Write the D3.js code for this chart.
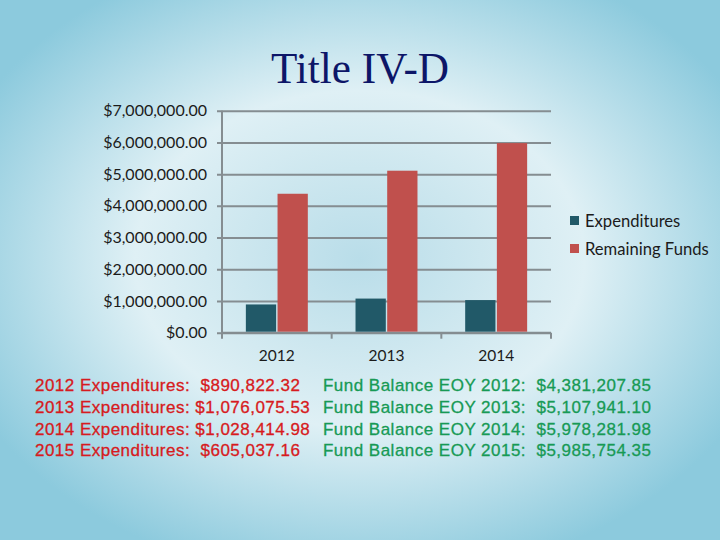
<!DOCTYPE html>
<html>
<head>
<meta charset="utf-8">
<script src="https://cdn.jsdelivr.net/npm/d3@7"></script>
<style>
  html, body { margin: 0; padding: 0; background: #a9d6e5; }
  svg { display: block; }
</style>
</head>
<body>
<div id="chart"></div>
<script>
var W = 720, H = 540
var margin = {top: 110.7, left: 222, right: 169, bottom: 207.3}

// data
var years = ["2012", "2013", "2014"]
var series = ["Expenditures", "Remaining Funds"]
var expenditures = [890822.32, 1076075.53, 1028414.98]
var remaining = [4381207.85, 5107941.10, 5978281.98]
var yTicks = [0, 1000000, 2000000, 3000000, 4000000, 5000000, 6000000, 7000000]
var colors = ["#215968", "#c0504d"]

var expLines = [
  "2012 Expenditures:  $890,822.32",
  "2013 Expenditures: $1,076,075.53",
  "2014 Expenditures: $1,028,414.98",
  "2015 Expenditures:  $605,037.16"
]
var balLines = [
  "Fund Balance EOY 2012:  $4,381,207.85",
  "Fund Balance EOY 2013:  $5,107,941.10",
  "Fund Balance EOY 2014:  $5,978,281.98",
  "Fund Balance EOY 2015:  $5,985,754.35"
]

var svg = d3.select("#chart").append("svg")
  .attr("width", W)
  .attr("height", H)

// background gradient (light centre ring, blue edges)
var defs = svg.append("defs")
var grad = defs.append("radialGradient")
  .attr("id", "bg")
  .attr("cx", "50%").attr("cy", "48%").attr("r", "60%")
grad.append("stop").attr("offset", "0%").attr("stop-color", "#b9dde9")
grad.append("stop").attr("offset", "28%").attr("stop-color", "#cde7ef")
grad.append("stop").attr("offset", "52%").attr("stop-color", "#dff0f5")
grad.append("stop").attr("offset", "100%").attr("stop-color", "#8ccadd")
svg.append("rect").attr("width", W).attr("height", H).attr("fill", "url(#bg)")

// title
svg.append("text")
  .attr("x", 360).attr("y", 83)
  .attr("text-anchor", "middle")
  .attr("textLength", 178)
  .attr("lengthAdjust", "spacingAndGlyphs")
  .style("font-family", "'Liberation Serif', 'DejaVu Serif', serif")
  .style("font-size", "45px")
  .style("fill", "#0d1668")
  .text("Title IV-D")

var width = W - margin.left - margin.right,
    height = H - margin.top - margin.bottom

var g = svg.append("g")
  .attr("transform", "translate(" + margin.left + "," + margin.top + ")")

var y = d3.scaleLinear().domain([0, 7000000]).range([height, 0])
var x0 = d3.scaleBand().domain(years).range([0, width])
var x1 = d3.scaleBand().domain(series).range([0, x0.bandwidth()]).paddingOuter(0.77)

var gridColor = "#858d91"
var fmt = d3.format("$,.2f")
var labelFont = "Lato, 'Open Sans', sans-serif"

// y axis with gridlines
var yAxis = d3.axisLeft(y)
  .tickValues(yTicks)
  .tickSize(-width - 5)
  .tickPadding(10)
  .tickFormat(fmt)
var ya = g.append("g")
  .attr("transform", "translate(-5,0)")
  .call(yAxis)
ya.select(".domain").remove()
ya.selectAll(".tick line")
  .attr("x1", 0)
  .attr("stroke", gridColor)
  .attr("stroke-width", 2)
ya.selectAll(".tick text")
  .style("font-family", labelFont)
  .style("font-size", "16px")
  .style("fill", "#1b1b1b")

// vertical axis line
g.append("line")
  .attr("x1", 0).attr("x2", 0)
  .attr("y1", 0).attr("y2", height)
  .attr("stroke", gridColor).attr("stroke-width", 2)

// x axis: ticks at category boundaries
var bounds = years.map(function(d){ return x0(d) }).concat([width])
g.append("line")
  .attr("x1", 0).attr("x2", width)
  .attr("y1", height).attr("y2", height)
  .attr("stroke", gridColor).attr("stroke-width", 2)
g.selectAll(".xtick").data(bounds).enter()
  .append("line")
  .attr("class", "xtick")
  .attr("x1", function(d){ return d }).attr("x2", function(d){ return d })
  .attr("y1", height).attr("y2", height + 6)
  .attr("stroke", gridColor).attr("stroke-width", 2)
g.selectAll(".xlabel").data(years).enter()
  .append("text")
  .attr("class", "xlabel")
  .attr("x", function(d){ return x0(d) + x0.bandwidth() / 2 })
  .attr("y", height + 28)
  .attr("text-anchor", "middle")
  .style("font-family", labelFont)
  .style("font-size", "15.5px")
  .style("fill", "#1b1b1b")
  .text(function(d){ return d })

// bars
var rows = years.map(function(yr, i){
  return {year: yr, values: [expenditures[i], remaining[i]]}
})
var groups = g.selectAll(".grp").data(rows).enter()
  .append("g")
  .attr("class", "grp")
  .attr("transform", function(d){ return "translate(" + x0(d.year) + ",0)" })
groups.selectAll("rect").data(function(d){
    return d.values.map(function(v, k){ return {key: series[k], value: v, k: k} })
  }).enter()
  .append("rect")
  .attr("x", function(d){ return x1(d.key) + (d.k === 1 ? 0.7 : 0) })
  .attr("width", function(d){ return x1.bandwidth() - 0.7 })
  .attr("y", function(d){ return y(d.value) })
  .attr("height", function(d){ return height - 1 - y(d.value) })
  .attr("fill", function(d){ return colors[d.k] })

// legend
var legend = svg.selectAll(".legend").data(series).enter()
  .append("g")
  .attr("class", "legend")
  .attr("transform", function(d, i){ return "translate(570," + (216 + i * 28) + ")" })
legend.append("rect")
  .attr("width", 9).attr("height", 9)
  .attr("fill", function(d, i){ return colors[i] })
legend.append("text")
  .attr("x", 15).attr("y", 10.5)
  .style("font-family", labelFont)
  .style("font-size", "16.6px")
  .style("fill", "#1b1b1b")
  .text(function(d){ return d })

// notes below the chart
function noteLines(cls, lines, x0pos, col){
  svg.selectAll("." + cls).data(lines).enter()
    .append("text")
    .attr("class", cls)
    .attr("x", x0pos)
    .attr("y", function(d, i){ return 391 + i * 21.8 })
    .attr("xml:space", "preserve")
    .style("white-space", "pre")
    .style("font-family", "'Liberation Sans', Arial, sans-serif")
    .style("font-size", "17px")
    .style("letter-spacing", "0.48px")
    .style("fill", col)
    .style("stroke", col)
    .style("stroke-width", 0.3)
    .text(function(d){ return d })
}
noteLines("exp", expLines, 35, "#d71a20")
noteLines("bal", balLines, 323, "#179a55")
</script>
</body>
</html>
